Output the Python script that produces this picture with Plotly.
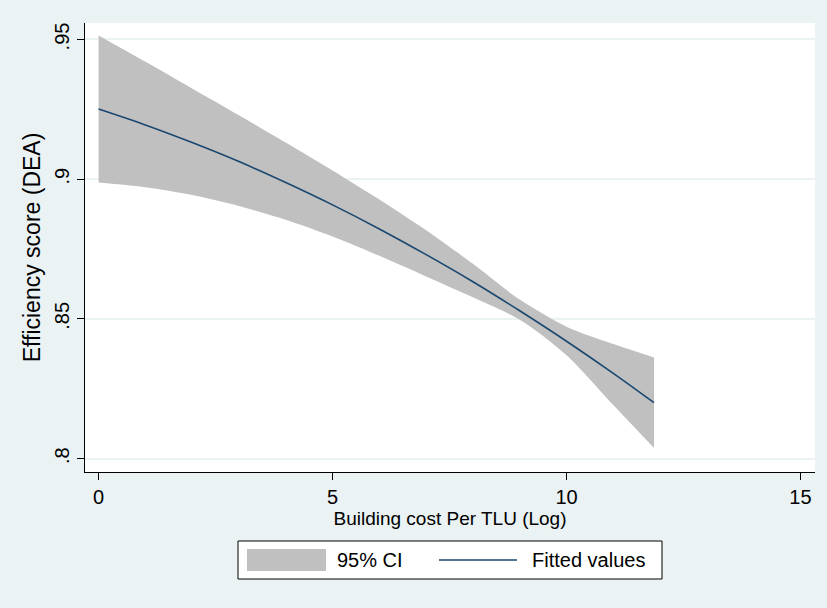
import plotly.graph_objects as go

x_vals = [0, 1, 2, 3, 4, 5, 6, 7, 8, 9, 10, 11, 11.87]
fitted = [.9251, .9194, .9131, .9063, .8988, .8908, .8822, .8730, .8633, .8529, .8420, .8305, .8200]
ci_upper = [.9514, .9420, .9325, .9229, .9131, .9031, .8927, .8817, .8697, .8569, .8472, .8410, .8362]
ci_lower = [.8988, .8971, .8943, .8904, .8855, .8795, .8726, .8652, .8577, .8497, .8370, .8192, .8038]

x_ticks = [0, 5, 10, 15]
y_ticks = [.8, .85, .9, .95]
y_tick_labels = [".8", ".85", ".9", ".95"]

legend_labels = ["95% CI", "Fitted values"]

FONT = "Liberation Sans, Arial, sans-serif"
BG = "#eaf2f3"
CI_COLOR = "#c0c0c0"
LINE_COLOR = "#1a476f"

W, H = 827, 608
ML, MR, MT, MB = 85, 12, 23, 136
PW, PH = W - ML - MR, H - MT - MB


def px(xp):
    return (xp - ML) / PW


def py(yp):
    return (H - MB - yp) / PH


fig = go.Figure()
fig.add_trace(go.Scatter(x=x_vals, y=ci_upper, mode="lines",
                         line=dict(width=0, shape="spline", smoothing=0.8, color=CI_COLOR),
                         showlegend=False, hoverinfo="skip"))
fig.add_trace(go.Scatter(x=x_vals, y=ci_lower, mode="lines",
                         line=dict(width=0, shape="spline", smoothing=0.8, color=CI_COLOR),
                         fill="tonexty", fillcolor=CI_COLOR, name=legend_labels[0], showlegend=False))
fig.add_trace(go.Scatter(x=x_vals, y=fitted, mode="lines",
                         line=dict(width=1.6, shape="spline", color=LINE_COLOR),
                         name=legend_labels[1], showlegend=False))

# legend box (drawn by hand to match the wide Stata-style keys)
shapes = [
    dict(type="rect", xref="paper", yref="paper", x0=px(238), x1=px(662), y0=py(579), y1=py(541),
         fillcolor="white", line=dict(color="black", width=1), layer="above"),
    dict(type="rect", xref="paper", yref="paper", x0=px(247), x1=px(326), y0=py(571), y1=py(549),
         fillcolor=CI_COLOR, line=dict(width=0), layer="above"),
    dict(type="line", xref="paper", yref="paper", x0=px(439), x1=px(517), y0=py(560), y1=py(560),
         line=dict(color=LINE_COLOR, width=1.6), layer="above"),
]
annotations = [
    dict(xref="paper", yref="paper", x=px(335), y=py(560), text=legend_labels[0], showarrow=False,
         xanchor="left", yanchor="middle", font=dict(size=20)),
    dict(xref="paper", yref="paper", x=px(530), y=py(560), text=legend_labels[1], showarrow=False,
         xanchor="left", yanchor="middle", font=dict(size=20)),
]

fig.update_layout(
    width=W, height=H,
    margin=dict(l=ML, r=MR, t=MT, b=MB),
    paper_bgcolor=BG, plot_bgcolor="white",
    font=dict(family=FONT, size=19, color="black"),
    showlegend=False,
    shapes=shapes, annotations=annotations,
    xaxis=dict(range=[-0.29, 15.31], tickvals=x_ticks, ticks="outside", ticklen=7, tickcolor="black",
               showline=True, linecolor="black", linewidth=1, showgrid=False, zeroline=False,
               tickfont=dict(size=20),
               title=dict(text="Building cost Per TLU (Log)", standoff=1, font=dict(size=19))),
    yaxis=dict(range=[0.7952, 0.9559], tickvals=y_ticks, ticktext=y_tick_labels, tickangle=-90,
               ticks="outside", ticklen=7, tickcolor="black", tickfont=dict(size=20),
               showline=True, linecolor="black", linewidth=1, showgrid=True, gridcolor=BG, gridwidth=1.5,
               zeroline=False,
               title=dict(text="Efficiency score (DEA)", standoff=3, font=dict(size=23))),
)

fig.write_html("out.html")
